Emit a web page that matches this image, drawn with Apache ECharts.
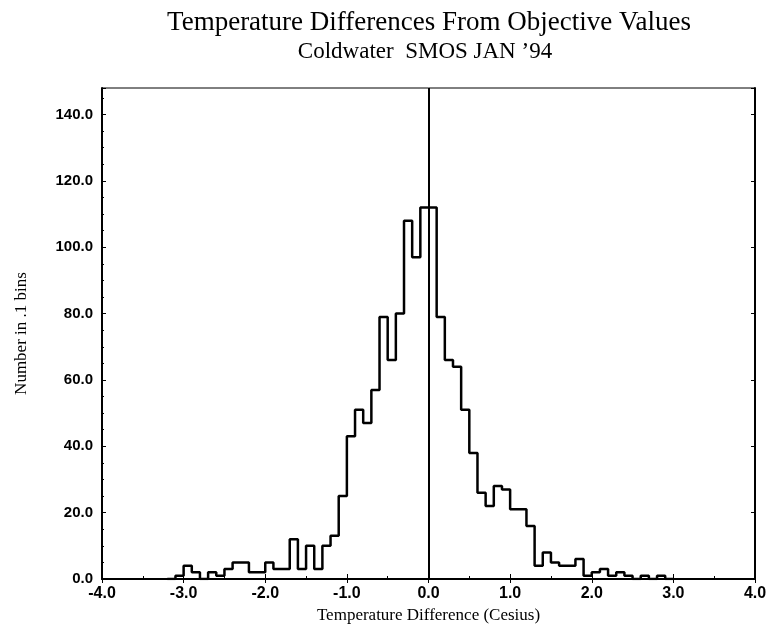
<!DOCTYPE html>
<html><head><meta charset="utf-8">
<script src="https://cdn.jsdelivr.net/npm/echarts@6/dist/echarts.min.js"></script>
<style>html,body{margin:0;padding:0;background:#fff}#c{width:772px;height:630px}</style>
</head><body><div id="c"></div>
<script>
const titleLines = ["Temperature Differences From Objective Values", "Coldwater  SMOS JAN \u201994"];
const xAxisTitle = "Temperature Difference (Cesius)";
const yAxisTitle = "Number in .1 bins";
const binStarts = [-3.2,-3.1,-3.0,-2.9,-2.8,-2.7,-2.6,-2.5,-2.4,-2.3,-2.2,-2.1,-2.0,-1.9,-1.8,-1.7,-1.6,-1.5,-1.4,-1.3,-1.2,-1.1,-1.0,-0.9,-0.8,-0.7,-0.6,-0.5,-0.4,-0.3,-0.2,-0.1,0.0,0.1,0.2,0.3,0.4,0.5,0.6,0.7,0.8,0.9,1.0,1.1,1.2,1.3,1.4,1.5,1.6,1.7,1.8,1.9,2.0,2.1,2.2,2.3,2.4,2.5,2.6,2.7,2.8,2.9];
const binEnd = 3.0;
const counts = [0,1,4,2,0,2,1,3,5,5,2,2,5,3,3,12,3,10,3,10,13,25,43,51,47,57,79,66,80,108,97,112,112,79,66,64,51,38,26,22,28,27,21,21,16,4,8,5,4,4,6,1,2,3,1,2,1,0,1,0,1,0];
const xTickLabels = ["-4.0","-3.0","-2.0","-1.0","0.0","1.0","2.0","3.0","4.0"];
const yTickLabels = ["0.0","20.0","40.0","60.0","80.0","100.0","120.0","140.0"];

const stepData = binStarts.map((x, i) => [x, counts[i]]);
stepData.push([binEnd, 0]);

const chart = echarts.init(document.getElementById('c'), null, {renderer: 'canvas'});
const serif = 'Liberation Serif';
chart.setOption({
  animation: false,
  backgroundColor: '#fff',
  title: [{
    text: titleLines[0], left: 424, top: 4, textAlign: 'center',
    textStyle: {fontFamily: serif, fontSize: 27, fontWeight: 'normal', color: '#000'}
  }, {
    text: titleLines[1], left: 420, top: 35, textAlign: 'center',
    textStyle: {fontFamily: serif, fontSize: 23, fontWeight: 'normal', color: '#000'}
  }],
  grid: {left: 102, right: 17, top: 88, bottom: 51, show: true, borderColor: '#000', borderWidth: 1},
  xAxis: [{
    type: 'value', min: -4, max: 4, interval: 1, position: 'bottom',
    name: xAxisTitle, nameLocation: 'middle', nameGap: 24,
    nameTextStyle: {fontFamily: serif, fontSize: 17, color: '#000'},
    axisLine: {show: true, onZero: false, lineStyle: {color: '#000', width: 2}},
    axisTick: {show: true, inside: true, length: 5, lineStyle: {color: '#000'}},
    minorTick: {show: true, splitNumber: 2, length: 3, lineStyle: {color: '#000'}},
    splitLine: {show: false},
    axisLabel: {margin: 7, color: '#000', fontFamily: 'Liberation Sans', fontSize: 16, fontWeight: 'bold',
      formatter: v => xTickLabels[Math.round(v + 4)]}
  }, {
    type: 'value', min: -4, max: 4, interval: 1, position: 'top',
    axisLine: {show: true, lineStyle: {color: '#000', width: 1}},
    axisTick: {show: true, inside: true, length: 4, lineStyle: {color: '#000'}},
    axisLabel: {show: false}, splitLine: {show: false}
  }],
  yAxis: [{
    type: 'value', min: 0, max: 148, interval: 20, position: 'left',
    name: yAxisTitle, nameLocation: 'middle', nameGap: 72, nameRotate: 90,
    nameTextStyle: {fontFamily: serif, fontSize: 17, color: '#000'},
    axisLine: {show: true, onZero: false, lineStyle: {color: '#000', width: 2}},
    axisTick: {show: true, inside: true, length: 4, lineStyle: {color: '#000'}},
    minorTick: {show: true, splitNumber: 4, length: 2, lineStyle: {color: '#000'}},
    splitLine: {show: false},
    axisLabel: {margin: 9, showMaxLabel: false, color: '#000', fontFamily: 'Liberation Sans', fontSize: 15, fontWeight: 'bold',
      formatter: v => yTickLabels[Math.round(v / 20)]}
  }, {
    type: 'value', min: 0, max: 148, interval: 20, position: 'right',
    axisLine: {show: true, onZero: false, lineStyle: {color: '#000', width: 2}},
    axisTick: {show: true, inside: true, length: 4, lineStyle: {color: '#000'}},
    axisLabel: {show: false}, splitLine: {show: false}
  }],
  series: [{
    type: 'line', step: 'end', data: stepData, symbol: 'none',
    lineStyle: {color: '#000', width: 2.5},
    markLine: {
      silent: true, symbol: 'none', label: {show: false},
      lineStyle: {color: '#000', width: 2, type: 'solid'},
      data: [{xAxis: 0}]
    }
  }]
});
</script>
</body></html>
